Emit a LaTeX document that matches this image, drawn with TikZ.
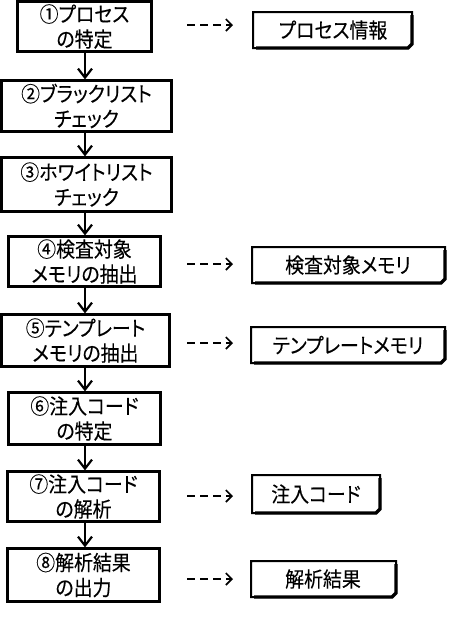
\documentclass[tikz,border=0pt]{standalone}
\usepackage{fontspec}
\newfontfamily\jp[RawFeature=+palt, FakeStretch=0.9, FakeBold=0.2]{Noto Sans CJK JP}
\usetikzlibrary{arrows.meta}
\tikzset{
  stepbox/.style={draw=black, line width=2.2pt, fill=white, inner sep=0pt, align=center,
    font=\jp\fontsize{21}{25}\selectfont},
  flow/.style={line width=2.2pt, -{Straight Barb[length=9pt,width=14pt,line width=2.2pt]}},
  dashflow/.style={line width=1.6pt, dash pattern=on 8pt off 5pt, -{Straight Barb[length=6pt,width=12pt,line width=1.6pt]}},
  docbox/.style={inner sep=0pt, align=center, font=\jp\fontsize{21}{25}\selectfont},
}
\newcommand{\docframe}[4]{% x1 y1 x2 y2
  \draw[line width=2pt] (#1,#2) -- (#3,#2) -- (#3,#4-4) -- (#3-4,#4) -- (#1,#4) -- cycle;
  \draw[line width=3.2pt] (#3,#2+3) -- (#3,#4-4) -- (#3-4,#4) -- (#1+3,#4);
}
\begin{document}
\begin{tikzpicture}[x=1pt,y=-1pt]
\useasboundingbox (0,0) rectangle (448,630);
\fill[white] (0,0) rectangle (448,630);

% left process boxes
\node[stepbox, minimum width=134pt, minimum height=50pt] (b1) at (84.5,26.5) {①プロセス\\の特定};
\node[stepbox, minimum width=170pt, minimum height=51pt] (b2) at (86.5,106) {②ブラックリスト\\チェック};
\node[stepbox, minimum width=170pt, minimum height=54pt] (b3) at (86.5,184.5) {③ホワイトリスト\\チェック};
\node[stepbox, minimum width=152pt, minimum height=50pt] (b4) at (84.5,261.5) {④検査対象\\メモリの抽出};
\node[stepbox, minimum width=168pt, minimum height=52pt] (b5) at (85.5,340.5) {⑤テンプレート\\メモリの抽出};
\node[stepbox, minimum width=152pt, minimum height=52pt] (b6) at (84.5,418.5) {⑥注入コード\\の特定};
\node[stepbox, minimum width=152pt, minimum height=50pt] (b7) at (83.5,496.5) {⑦注入コード\\の解析};
\node[stepbox, minimum width=152pt, minimum height=53pt] (b8) at (83.5,575) {⑧解析結果\\の出力};

% vertical flow arrows
\draw[flow] (b1.south -| 85,0) -- (b2.north -| 85,0);
\draw[flow] (b2.south -| 85,0) -- (b3.north -| 85,0);
\draw[flow] (b3.south -| 85,0) -- (b4.north -| 85,0);
\draw[flow] (b4.south -| 85,0) -- (b5.north -| 85,0);
\draw[flow] (b5.south -| 85,0) -- (b6.north -| 85,0);
\draw[flow] (b6.south -| 85,0) -- (b7.north -| 85,0);
\draw[flow] (b7.south -| 85,0) -- (b8.north -| 85,0);

% right output boxes
\docframe{253}{12}{412}{48}
\node[docbox] (r1) at (333,30) {プロセス情報};
\docframe{252}{247}{445}{283}
\node[docbox] (r2) at (348,265) {検査対象メモリ};
\docframe{251}{327}{445}{363}
\node[docbox] (r3) at (348,345) {テンプレートメモリ};
\docframe{252}{475}{380}{513}
\node[docbox] (r4) at (316,494) {注入コード};
\docframe{251}{561}{396}{597}
\node[docbox] (r5) at (323,579) {解析結果};

% dashed arrows
\coordinate (d1s) at (187,25);  \coordinate (d1e) at (233,25);
\coordinate (d4s) at (187,264); \coordinate (d4e) at (233,264);
\coordinate (d5s) at (187,343); \coordinate (d5e) at (233,343);
\coordinate (d7s) at (187,496); \coordinate (d7e) at (233,496);
\coordinate (d8s) at (187,579); \coordinate (d8e) at (233,579);
\draw[dashflow] (d1s) -- (d1e);
\draw[dashflow] (d4s) -- (d4e);
\draw[dashflow] (d5s) -- (d5e);
\draw[dashflow] (d7s) -- (d7e);
\draw[dashflow] (d8s) -- (d8e);
\end{tikzpicture}
\end{document}
